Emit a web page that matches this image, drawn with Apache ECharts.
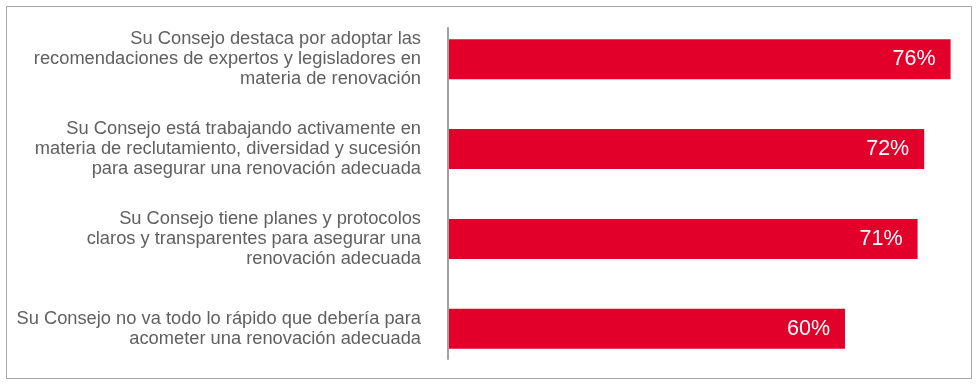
<!DOCTYPE html>
<html>
<head>
<meta charset="utf-8">
<script src="https://cdn.jsdelivr.net/npm/echarts@6/dist/echarts.min.js"></script>
<style>
  html, body { margin: 0; padding: 0; background: #fff; }
  #chart { width: 980px; height: 388px; }
</style>
</head>
<body>
<div id="chart"></div>
<script>
const categories = [
  'Su Consejo destaca por adoptar las\nrecomendaciones de expertos y legisladores en\nmateria de renovación',
  'Su Consejo está trabajando activamente en\nmateria de reclutamiento, diversidad y sucesión\npara asegurar una renovación adecuada',
  'Su Consejo tiene planes y protocolos\nclaros y transparentes para asegurar una\nrenovación adecuada',
  'Su Consejo no va todo lo rápido que debería para\nacometer una renovación adecuada'
]
const values = [76, 72, 71, 60]

const chart = echarts.init(document.getElementById('chart'))

chart.setOption({
  animation: false,
  graphic: [
    {
      type: 'rect',
      shape: { x: 6.5, y: 6.5, width: 965, height: 372 },
      style: { fill: 'none', stroke: '#a6a6a6', lineWidth: 1 },
      silent: true
    }
  ],
  grid: [
    { left: 449, right: 29.4, top: 14.4, bottom: 14.4 },
    // only carries the short vertical axis line
    { left: 447.5, width: 1, top: 28, bottom: 29 }
  ],
  xAxis: [
    { type: 'value', min: 0, max: 76, show: false },
    { type: 'value', gridIndex: 1, show: false }
  ],
  yAxis: [
    {
      type: 'category',
      inverse: true,
      data: categories,
      axisLine: { show: false },
      axisTick: { show: false },
      axisLabel: {
        margin: 28,
        color: '#606060',
        fontFamily: 'Liberation Sans, Arial, sans-serif',
        fontSize: 18.3,
        lineHeight: 20,
        align: 'right'
      }
    },
    {
      type: 'value',
      gridIndex: 1,
      min: 0,
      max: 1,
      axisLine: { show: true, lineStyle: { color: '#a0a0a0', width: 2 } },
      axisTick: { show: false },
      axisLabel: { show: false },
      splitLine: { show: false }
    }
  ],
  series: [
    {
      type: 'bar',
      data: values,
      barWidth: 40,
      itemStyle: { color: '#e2002a' },
      label: {
        show: true,
        position: 'insideRight',
        distance: 15,
        color: '#fff',
        fontFamily: 'Liberation Sans, Arial, sans-serif',
        fontSize: 21.5,
        formatter: (p) => p.value + '%'
      }
    }
  ]
})
</script>
</body>
</html>
